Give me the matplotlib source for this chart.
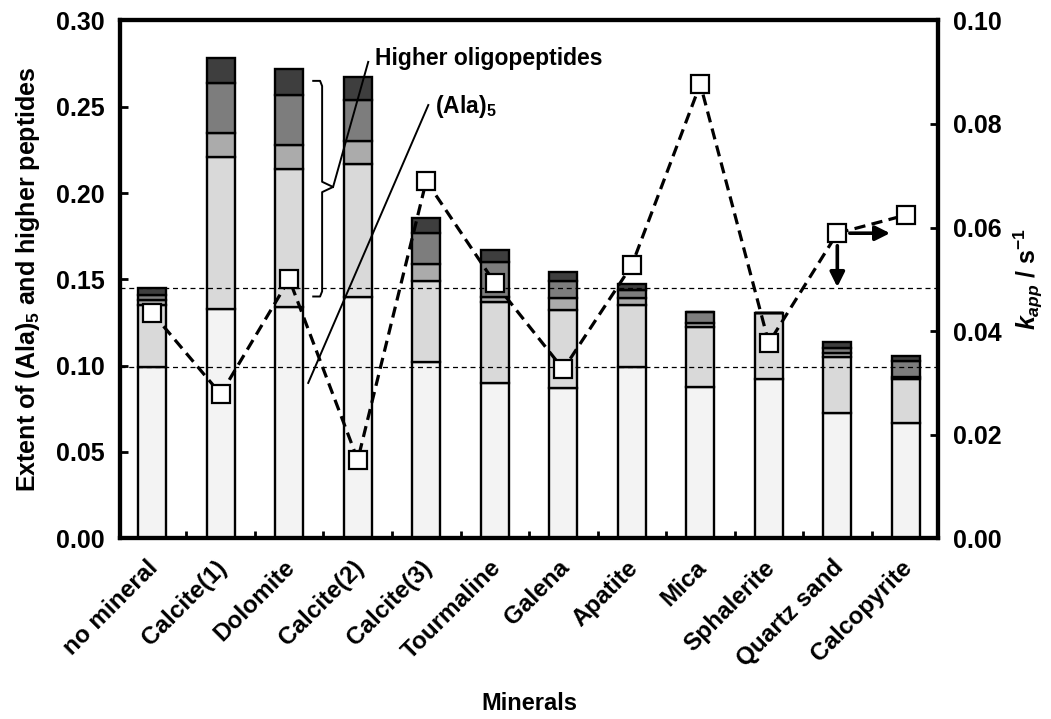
import matplotlib
matplotlib.use("Agg")
import matplotlib.pyplot as plt
import matplotlib.transforms as mtransforms
import numpy as np
from matplotlib.ticker import FormatStrFormatter

plt.rcParams["font.family"] = "Liberation Sans"
plt.rcParams["font.weight"] = "bold"
plt.rcParams["axes.labelweight"] = "bold"
plt.rcParams["mathtext.fontset"] = "custom"
plt.rcParams["mathtext.rm"] = "Liberation Sans:bold"
plt.rcParams["mathtext.it"] = "Liberation Sans:bold:italic"
plt.rcParams["mathtext.bf"] = "Liberation Sans:bold"

minerals = ["no mineral", "Calcite(1)", "Dolomite", "Calcite(2)", "Calcite(3)",
            "Tourmaline", "Galena", "Apatite", "Mica", "Sphalerite",
            "Quartz sand", "Calcopyrite"]

# stacked extents, bottom (Ala)5 up to the longest oligopeptides
ala5 = [0.099, 0.133, 0.134, 0.140, 0.102, 0.090, 0.087, 0.099, 0.0877, 0.092, 0.0725, 0.0667]
ala6 = [0.036, 0.088, 0.080, 0.077, 0.047, 0.047, 0.045, 0.036, 0.0348, 0.0385, 0.0325, 0.0253]
ala7 = [0.003, 0.014, 0.014, 0.013, 0.010, 0.003, 0.007, 0.004, 0.002, 0.0, 0.002, 0.0013]
ala8 = [0.003, 0.029, 0.029, 0.024, 0.018, 0.020, 0.010, 0.0048, 0.0065, 0.0, 0.003, 0.0093]
ala9 = [0.004, 0.014, 0.015, 0.013, 0.0085, 0.007, 0.005, 0.0032, 0.0, 0.0, 0.0036, 0.0029]

# apparent rate constants (right axis)
k_app = [0.0435, 0.0278, 0.050, 0.0151, 0.069, 0.0493, 0.0326, 0.0527, 0.0877, 0.0377, 0.0589, 0.0624]

segments = [ala5, ala6, ala7, ala8, ala9]
shades = ["#f3f3f3", "#d9d9d9", "#ababab", "#7d7d7d", "#3e3e3e"]

x = np.arange(len(minerals))

fig = plt.figure(figsize=(10.51, 7.19), dpi=100)
fig.subplots_adjust(left=0.1142, right=0.8925, bottom=0.2517, top=0.9715)
ax = fig.add_subplot(1, 1, 1)

bottom = np.zeros(len(minerals))
for seg, shade in zip(segments, shades):
    ax.bar(x, seg, bottom=bottom, width=0.41, color=shade, edgecolor="black",
           linewidth=1.7, zorder=2)
    bottom += np.array(seg)

# reference levels taken from the run without mineral
no_mineral_total = sum(s[0] for s in segments)
ax.axhline(no_mineral_total, color="black", lw=0.9, ls=(0, (4, 3)), zorder=3)
ax.axhline(ala5[0], color="black", lw=0.9, ls=(0, (4, 3)), zorder=3)

# brace and labels for the peptide groups
brace_x = [2.35, 2.45, 2.48, 2.48, 2.64, 2.48, 2.48, 2.45, 2.35]
brace_y = [0.265, 0.265, 0.262, 0.2065, 0.2035, 0.2005, 0.143, 0.140, 0.140]
ax.plot(brace_x, brace_y, color="black", lw=1.4, zorder=4)
ax.plot([2.64, 3.153], [0.2035, 0.276], color="black", lw=1.4, zorder=4)
ax.text(3.255, 0.2742, "Higher oligopeptides", fontsize=16.5, va="baseline")
ax.plot([4.03, 2.277], [0.251, 0.0899], color="black", lw=1.4, zorder=4)
ax.text(4.13, 0.2464, r"(Ala)$_5$", fontsize=16.5, va="baseline")

ax.set_xlim(-0.47, 11.47)
ax.set_ylim(0, 0.30)
ax.set_yticks(np.arange(0, 0.301, 0.05))
ax.yaxis.set_major_formatter(FormatStrFormatter("%.2f"))
ax.set_xticks(x)
ax.set_xticklabels(minerals, rotation=45, ha="right", rotation_mode="anchor", fontsize=17.5)
ax.set_xticks(np.arange(0.5, 11, 1), minor=True)
ax.tick_params(axis="x", which="major", length=0, pad=13)
ax.tick_params(axis="x", which="minor", direction="in", length=5, width=2)
ax.tick_params(axis="y", direction="in", length=6, width=2, labelsize=18, pad=11)
shift = mtransforms.ScaledTranslation(-4 / 72, 0, fig.dpi_scale_trans)
for lab in ax.get_xticklabels():
    lab.set_transform(lab.get_transform() + shift)

ax.set_ylabel(r"Extent of (Ala)$_5$ and higher peptides", fontsize=18)
ax.yaxis.set_label_coords(-0.0954, 0.5)
ax.set_xlabel("Minerals", fontsize=17)
ax.xaxis.set_label_coords(0.5, -0.2976)
ax.xaxis.label.set_va("top")

ax2 = ax.twinx()
ax2.plot(x, k_app, color="black", lw=2.3, ls=(0, (3.5, 2)), marker="s", ms=13,
         mfc="white", mec="black", mew=1.6, zorder=3)

# quartz sand value is a limit: arrows down and to the right
qs = minerals.index("Quartz sand")
arrow = dict(arrowstyle="-|>", color="black", lw=2.6, mutation_scale=22,
             shrinkA=9, shrinkB=0)
ax2.annotate("", xy=(qs, 0.0485), xytext=(qs, k_app[qs]), arrowprops=arrow)
ax2.annotate("", xy=(qs + 0.77, k_app[qs]), xytext=(qs, k_app[qs]), arrowprops=arrow)

ax2.set_ylim(0, 0.10)
ax2.set_yticks(np.arange(0, 0.101, 0.02))
ax2.yaxis.set_major_formatter(FormatStrFormatter("%.2f"))
ax2.tick_params(axis="y", direction="in", length=6, width=2, labelsize=18, pad=11)
ax2.set_ylabel(r"$k_{app}$ / s$^{-1}$", fontsize=18)
ax2.yaxis.set_label_coords(1.0905, 0.5)

for a in (ax, ax2):
    for sp in a.spines.values():
        sp.set_linewidth(3)

fig.savefig("out.png", dpi=100)
